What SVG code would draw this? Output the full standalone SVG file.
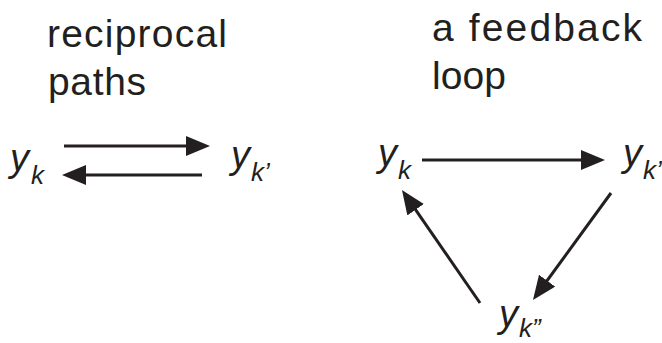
<svg xmlns="http://www.w3.org/2000/svg" width="662" height="343" viewBox="0 0 662 343">
<style>
.title{font-family:"Liberation Sans",Arial,sans-serif;font-size:39px;fill:#231f20}
.var{font-family:"Liberation Sans",Arial,sans-serif;font-style:italic;font-size:38px;fill:#231f20}
.sub{font-size:26px}
.edge{stroke:#231f20;stroke-width:3;fill:none;marker-end:url(#ah)}
</style>
<defs>
<marker id="ah" markerUnits="userSpaceOnUse" markerWidth="26" markerHeight="22" refX="19" refY="10" orient="auto">
<path d="M0,0 L24,10 L0,20 Z" fill="#231f20"/>
</marker>
</defs>
<rect width="662" height="343" fill="#fff"/>
<g id="titles">
<text class="title" x="47" y="47" textLength="180" lengthAdjust="spacing">reciprocal</text>
<text class="title" x="48" y="95" textLength="98" lengthAdjust="spacing">paths</text>
<text class="title" x="432" y="41" textLength="210" lengthAdjust="spacing">a feedback</text>
<text class="title" x="432" y="89" textLength="74" lengthAdjust="spacing">loop</text>
</g>
<g id="connectors">
<line class="edge" x1="64" y1="146" x2="205" y2="146"/>
<line class="edge" x1="202" y1="175" x2="67" y2="175"/>
<line class="edge" x1="422" y1="160" x2="600" y2="160"/>
<line class="edge" x1="611" y1="193" x2="535.9" y2="296"/>
<line class="edge" x1="480" y1="303" x2="404.8" y2="194.1"/>
</g>
<g id="node-left-yk"><text class="var" x="10" y="171">y<tspan class="sub" dx="2" dy="13">k</tspan></text></g>
<g id="node-left-ykp"><text class="var" x="231" y="168">y<tspan class="sub" dx="1" dy="13">k’</tspan></text></g>
<g id="node-loop-yk"><text class="var" x="378" y="166">y<tspan class="sub" dx="1" dy="13">k</tspan></text></g>
<g id="node-loop-ykp"><text class="var" x="623" y="166">y<tspan class="sub" dx="1" dy="13">k’</tspan></text></g>
<g id="node-loop-ykpp"><text class="var" x="499" y="327">y<tspan class="sub" dx="1" dy="10">k”</tspan></text></g>
</svg>
